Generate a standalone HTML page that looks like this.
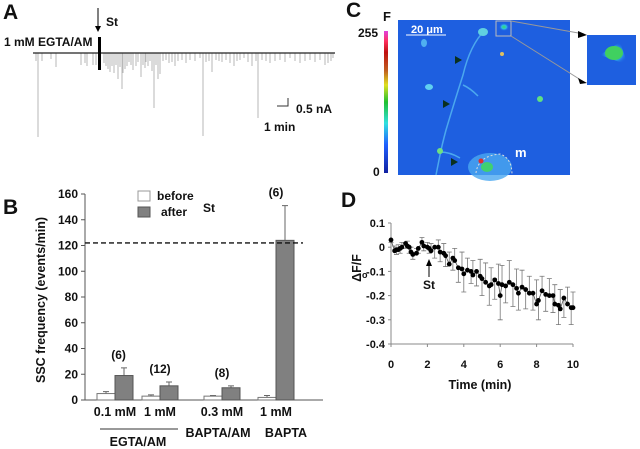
<!DOCTYPE html>
<html><head><meta charset="utf-8"><style>
body{margin:0;background:#fff;width:640px;height:449px;overflow:hidden;font-family:"Liberation Sans",Arial,sans-serif}
svg{position:absolute;left:0;top:0}
text{font-family:"Liberation Sans",Arial,sans-serif;font-weight:bold;fill:#111}
</style></head><body>
<svg id="fig" width="640" height="449" viewBox="0 0 640 449">
<defs>
<linearGradient id="cbar" x1="0" y1="1" x2="0" y2="0">
<stop offset="0" stop-color="#1020a0"/><stop offset="0.2" stop-color="#2060ff"/><stop offset="0.35" stop-color="#30e0e0"/><stop offset="0.5" stop-color="#20c030"/><stop offset="0.62" stop-color="#e0e020"/><stop offset="0.72" stop-color="#c06020"/><stop offset="0.85" stop-color="#c01010"/><stop offset="0.93" stop-color="#ff3060"/><stop offset="1" stop-color="#e040e0"/>
</linearGradient>
<radialGradient id="cell" cx="0.5" cy="0.5" r="0.5"><stop offset="0" stop-color="#30e060"/><stop offset="0.5" stop-color="#30c0e0"/><stop offset="1" stop-color="#2060ee" stop-opacity="0"/></radialGradient>
</defs>
<g>
<text x="3" y="19" font-size="21">A</text>
<text x="4" y="46" font-size="12">1 mM EGTA/AM</text>
<text x="106" y="26" font-size="12">St</text>
<line x1="98" y1="8" x2="98" y2="28" stroke="#000"/>
<polygon points="95,26 101,26 98,32" fill="#000"/>
<g id="trace"></g>
<line x1="33" y1="53" x2="335" y2="53" stroke="#222" stroke-width="1.3"/>
<rect x="98" y="37" width="3" height="33" fill="#000"/>
<polyline points="277,106 288,106 288,98" fill="none" stroke="#333"/>
<text x="296" y="113" font-size="12">0.5 nA</text>
<text x="264" y="131" font-size="12">1 min</text>
</g>
<g>
<text x="346" y="17" font-size="21">C</text>
<text x="383" y="21" font-size="13">F</text>
<text x="358" y="37" font-size="12">255</text>
<text x="373" y="176" font-size="12">0</text>
<rect x="384" y="31" width="4" height="142" fill="url(#cbar)"/>
<rect x="398" y="20" width="172" height="155" fill="#1e5fe0"/>
<g stroke="#50b0f0" stroke-width="1.5" fill="none" opacity="0.9">
<path d="M485,30 Q470,45 463,75 Q455,100 446,130 Q442,145 440,155 Q438,165 436,175"/>
<path d="M463,85 Q470,88 478,96"/>
<path d="M440,152 Q450,152 460,158"/>
</g>
<ellipse cx="483" cy="32" rx="5" ry="4" fill="#60d0e0"/>
<ellipse cx="504" cy="27" rx="5" ry="4" fill="url(#cell)"/>
<ellipse cx="424" cy="43" rx="3" ry="4" fill="#50b0f0"/>
<ellipse cx="429" cy="87" rx="4" ry="3" fill="#60d0f0"/>
<ellipse cx="440" cy="151" rx="3" ry="3" fill="#70e080"/>
<ellipse cx="540" cy="99" rx="3" ry="3" fill="#60e080"/>
<circle cx="502" cy="54" r="2" fill="#e0c060"/>
<ellipse cx="490" cy="167" rx="22" ry="14" fill="#4aa8f0" opacity="0.8"/>
<ellipse cx="487" cy="167" rx="6" ry="5" fill="#40d070"/>
<path d="M476,173 Q478,156 500,154 Q512,158 512,175" fill="none" stroke="#ddd" stroke-dasharray="2,2"/>
<circle cx="481" cy="161" r="2.5" fill="#e03030"/>
<polygon points="455,56 462,60 455,64" fill="#0a3020"/>
<polygon points="443,100 450,104 443,108" fill="#0a3020"/>
<polygon points="451,158 458,162 451,166" fill="#0a3020"/>
<text x="515" y="157" font-size="13" style="fill:#fff">m</text>
<line x1="406" y1="35" x2="446" y2="35" stroke="#fff"/>
<text x="411" y="33" font-size="11" style="fill:#fff">20 μm</text>
<rect x="496" y="21" width="15" height="15" fill="none" stroke="#bbb"/>
<line x1="511" y1="21" x2="584" y2="34" stroke="#999"/><line x1="511" y1="36" x2="584" y2="82" stroke="#999"/>
<polygon points="578,31 587,35 578,38" fill="#000"/><polygon points="578,78 587,83 580,84" fill="#000"/>
<rect x="587" y="35" width="49" height="50" fill="#1e5fe0"/>
<polygon points="600,55 620,42 628,65" fill="url(#cell)"/>
<ellipse cx="614" cy="53" rx="9" ry="7" fill="#40d060"/>
</g>
<g id="panelB">
<text x="3" y="214" font-size="21">B</text>
<text transform="translate(45,300) rotate(-90)" text-anchor="middle" font-size="12.5">SSC frequency (events/min)</text>
<rect x="138" y="191" width="12" height="10" fill="#fff" stroke="#999"/>
<text x="157" y="200" font-size="12">before</text>
<rect x="138" y="207" width="12" height="10" fill="#808080" stroke="#555"/>
<text x="161" y="216" font-size="12">after</text>
<text x="203" y="212" font-size="12">St</text>
<line x1="100" y1="429" x2="178" y2="429" stroke="#333"/>
<text x="138" y="446" font-size="12.5" text-anchor="middle">EGTA/AM</text>
<text x="218" y="437" font-size="12.5" text-anchor="middle">BAPTA/AM</text>
<text x="286" y="437" font-size="12.5" text-anchor="middle">BAPTA</text>
</g>
<g id="panelD">
<text x="341" y="207" font-size="21">D</text>
<text transform="translate(361,268) rotate(-90)" text-anchor="middle" font-size="12.5">ΔF/F</text>
<text x="362" y="278" font-size="9">o</text>
<text x="480" y="389" font-size="12.5" text-anchor="middle">Time (min)</text>
<text x="429" y="289" font-size="12" text-anchor="middle">St</text>
<line x1="429" y1="266" x2="429" y2="277" stroke="#000"/>
<polygon points="426,266 432,266 429,259" fill="#000"/>
</g>
</svg>
<script>
const NS='http://www.w3.org/2000/svg';
function mk(tag,attrs,parent){const e=document.createElementNS(NS,tag);for(const k in attrs)e.setAttribute(k,attrs[k]);parent.appendChild(e);return e;}
const spikeX=[36,38,42,51,56,81,85,87,93,96,104,106,108,110,112,114,116,118,120,122,123,125,127,129,131,133,136,138,141,143,145,146,148,150,152,154,156,158,160,163,166,169,172,175,178,182,186,190,195,200,203,206,209,212,216,219,222,226,230,234,237,240,244,248,252,256,258,262,266,270,275,280,285,290,295,300,305,310,315,320,325,328,331,333];
const spikeD=[8,84,8,6,14,12,10,13,12,12,10,13,16,19,13,20,12,26,14,36,20,16,13,9,12,17,13,9,24,12,15,9,13,8,18,55,12,26,21,8,7,10,9,13,8,7,10,7,8,5,83,9,8,19,7,8,9,7,10,13,8,7,5,9,13,8,65,7,8,10,8,7,9,5,8,10,8,7,9,7,12,10,8,5];
const tr=document.getElementById('trace');
spikeX.forEach((x,i)=>{const l=mk('line',{x1:x,y1:53,x2:x,y2:53+spikeD[i],stroke:'#999','stroke-width':0.7},tr);

});

const groups=['0.1 mM','1 mM','0.3 mM','1 mM'];
const beforeVals=[5,3,3,2];
const beforeErr=[1.5,1,0.5,1.5];
const afterVals=[19,11,9.5,124];
const afterErr=[6,3,1.5,27];
const nLabels=['(6)','(12)','(8)','(6)'];
const bTicks=[0,20,40,60,80,100,120,140,160];
const dashedRef=122;
const B=document.getElementById('panelB');
const bx0=85,bx1=323,by0=400,by1=194,bmax=160;
const yB=v=>by0-(v/bmax)*(by0-by1);
const groupLeft=[97,142,204,258];
const bw=18;
bTicks.forEach(t=>{const y=yB(t);
const tk=mk('line',{x1:bx0-4,y1:y,x2:bx0,y2:y,stroke:'#555'},B);


const tl=mk('text',{x:bx0-7,y:y+4,'font-size':12,'text-anchor':'end'},B);tl.textContent=t;

});
const ax=mk('line',{x1:bx0,y1:by1,x2:bx0,y2:by0,stroke:'#555'},B);


const axx=mk('line',{x1:bx0,y1:by0,x2:bx1,y2:by0,stroke:'#555'},B);


function errbar(cx,v,e,col){const l=mk('path',{d:`M${cx},${yB(v)}V${yB(v+e)}M${cx-3},${yB(v+e)}H${cx+3}`,stroke:col,fill:'none','stroke-width':1},B);

}
groups.forEach((g,i)=>{const x=groupLeft[i];
errbar(x+bw/2,beforeVals[i],beforeErr[i],'#666');
const r1=mk('rect',{x:x,y:yB(beforeVals[i]),width:bw,height:by0-yB(beforeVals[i]),fill:'#fff',stroke:'#777'},B);


errbar(x+bw*1.5,afterVals[i],afterErr[i],'#666');
const r2=mk('rect',{x:x+bw,y:yB(afterVals[i]),width:bw,height:by0-yB(afterVals[i]),fill:'#808080',stroke:'#555'},B);


const nl=mk('text',{x:x+bw*(i==0?1.2:1),y:yB(afterVals[i]+afterErr[i])-9,'font-size':12,'text-anchor':'middle'},B);nl.textContent=nLabels[i];


const gl=mk('text',{x:x+bw,y:416,'font-size':12.5,'text-anchor':'middle'},B);gl.textContent=g;

});
const dl=mk('line',{x1:bx0,y1:yB(dashedRef),x2:303,y2:yB(dashedRef),stroke:'#111','stroke-width':1.3,'stroke-dasharray':'5,3'},B);



const dT=[0,0.2,0.3,0.4,0.5,0.6,0.8,0.9,1.0,1.1,1.2,1.4,1.5,1.7,1.8,2.0,2.1,2.2,2.4,2.6,2.7,2.9,3.0,3.2,3.4,3.5,3.7,3.9,4.0,4.2,4.4,4.5,4.7,4.9,5.0,5.2,5.4,5.5,5.7,5.9,6.0,6.1,6.3,6.5,6.7,6.9,7.0,7.2,7.4,7.6,7.8,8.0,8.1,8.3,8.5,8.7,8.9,9.0,9.2,9.3,9.5,9.7,9.9,10];
const dV=[0.03,-0.015,-0.01,-0.01,-0.005,0,0.015,0.005,0,-0.02,-0.03,-0.025,-0.005,0.02,0.005,0,-0.005,-0.015,0,0,-0.02,-0.025,-0.035,-0.07,-0.045,-0.055,-0.085,-0.09,-0.11,-0.095,-0.1,-0.115,-0.1,-0.12,-0.13,-0.145,-0.16,-0.155,-0.135,-0.15,-0.2,-0.155,-0.16,-0.145,-0.155,-0.17,-0.19,-0.165,-0.175,-0.19,-0.19,-0.235,-0.22,-0.18,-0.195,-0.2,-0.2,-0.235,-0.24,-0.255,-0.21,-0.235,-0.25,-0.25];
const dE=[0.01,0.02,0.02,0.02,0.02,0.02,0.02,0.02,0.025,0.02,0.02,0.02,0.02,0.02,0.02,0.02,0.02,0.03,0.045,0.03,0.04,0.04,0.045,0.05,0.05,0.05,0.06,0.07,0.075,0.05,0.05,0.06,0.06,0.07,0.07,0.08,0.08,0.07,0.08,0.08,0.1,0.08,0.07,0.09,0.09,0.08,0.07,0.07,0.08,0.07,0.07,0.1,0.08,0.06,0.07,0.07,0.07,0.08,0.08,0.08,0.08,0.07,0.07,0.065];
const dYTicks=[0.1,0,-0.1,-0.2,-0.3,-0.4];
const dXTicks=[0,2,4,6,8,10];
const D=document.getElementById('panelD');
const dx0=391,dx1=573,dyTop=223,dyBot=344;
const xD=t=>dx0+t/10*(dx1-dx0);
const yD=v=>dyTop+(0.1-v)/0.5*(dyBot-dyTop);
const dya=mk('line',{x1:dx0,y1:dyTop,x2:dx0,y2:dyBot,stroke:'#888'},D);


const dxa=mk('line',{x1:dx0,y1:dyBot,x2:dx1,y2:dyBot,stroke:'#888'},D);


dYTicks.forEach(t=>{const y=yD(t);
const tk=mk('line',{x1:dx0-3,y1:y,x2:dx0,y2:y,stroke:'#888'},D);


const tl=mk('text',{x:dx0-6,y:y+4,'font-size':11,'text-anchor':'end'},D);tl.textContent=t===0?'0':String(t);

});
dXTicks.forEach(t=>{const x=xD(t);
const tk=mk('line',{x1:x,y1:dyBot,x2:x,y2:dyBot+3,stroke:'#888'},D);


const tl=mk('text',{x:x,y:368,'font-size':11,'text-anchor':'middle'},D);tl.textContent=t;

});
dT.forEach((t,i)=>{const x=xD(t),v=dV[i],e=dE[i],s=i%2?1:-1;
const yEnd=yD(v+s*e);
const eb=mk('path',{d:`M${x},${yD(v)}V${yEnd}M${x-2.5},${yEnd}H${x+2.5}`,stroke:'#777',fill:'none','stroke-width':0.8},D);

});
const ln=mk('polyline',{points:dT.map((t,i)=>xD(t)+','+yD(dV[i])).join(' '),fill:'none',stroke:'#555','stroke-width':0.8},D);


dT.forEach((t,i)=>{const c=mk('circle',{cx:xD(t),cy:yD(dV[i]),r:2.4,fill:'#000'},D);

});
</script>
</body></html>
